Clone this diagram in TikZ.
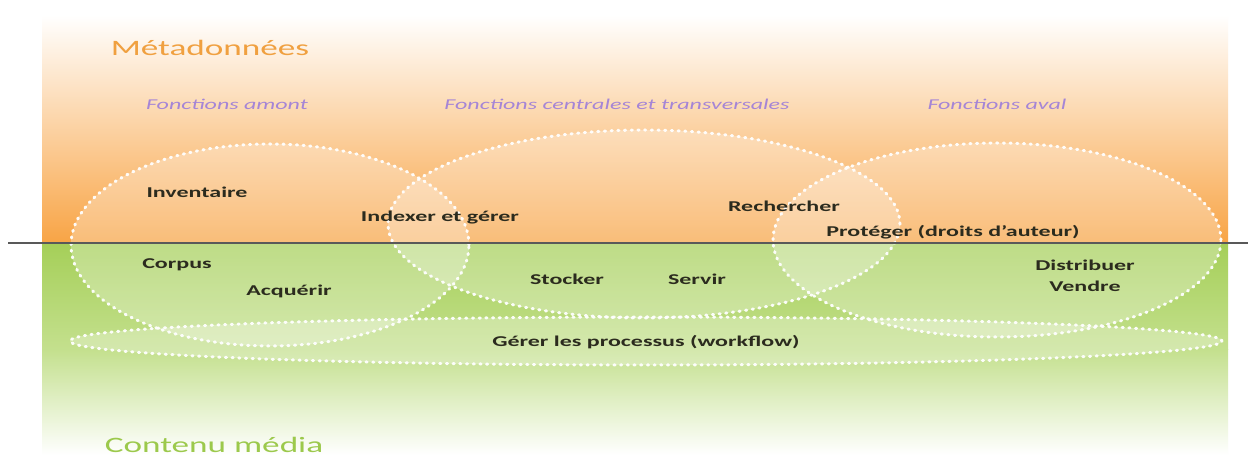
\documentclass[tikz,border=0pt]{standalone}
\usepackage{fontspec}
\setmainfont{Carlito}
\newcommand{\wide}[1]{\scalebox{1.6}[1]{#1}}
\begin{document}
\begin{tikzpicture}[x=1pt,y=-1pt,
  zone/.style={draw=white,line width=3pt,line cap=round,dash pattern=on 1.2pt off 5.5pt,fill=white,fill opacity=0.28,draw opacity=0.95},
  title/.style={font=\fontsize{22}{24}\selectfont,anchor=center},
  fonct/.style={font=\fontsize{15}{17}\selectfont\itshape,text=purpleT},
  lab/.style={font=\fontsize{15}{16}\selectfont\bfseries,text=darkT,align=center}]
\definecolor{orangeB}{HTML}{F8A445}
\definecolor{greenB}{HTML}{A5CF58}
\definecolor{greenM}{HTML}{C4E08E}
\definecolor{purpleT}{HTML}{A585D6}
\definecolor{darkT}{HTML}{2B2B1E}
\definecolor{orangeT}{HTML}{F0A040}
\definecolor{greenT}{HTML}{9CC94C}
\useasboundingbox (0,0) rectangle (1248,462);
\fill[white] (0,0) rectangle (1248,462);
% backgrounds
\shade[top color=white,bottom color=orangeB] (42,15) rectangle (1228,243);
\shade[top color=greenB,bottom color=greenM] (42,243) rectangle (1228,350);
\shade[top color=greenM,bottom color=white] (42,350) rectangle (1228,455);
% ellipses
\draw[zone] (270,245) ellipse [x radius=199pt,y radius=101pt];
\draw[zone] (644,224) ellipse [x radius=256pt,y radius=94pt];
\draw[zone] (997,240) ellipse [x radius=224pt,y radius=97pt];
\draw[zone] (646,341) ellipse [x radius=576pt,y radius=24pt];
% separator
\coordinate (sepL) at (8,243);
\coordinate (sepR) at (1248,243);
\draw[line width=1.2pt,draw=black!65] (sepL) -- (sepR);
% titles
\node[title,text=orangeT] (meta) at (210,48) {\wide{Métadonnées}};
\node[title,text=greenT] (media) at (214,445) {\wide{Contenu média}};
\node[fonct] (amont) at (227,104) {\wide{Fonctions amont}};
\node[fonct] (centr) at (617,104) {\wide{Fonctions centrales et transversales}};
\node[fonct] (aval) at (997,104) {\wide{Fonctions aval}};
% labels
\node[lab] (inv) at (197,192) {\wide{Inventaire}};
\node[lab] (idx) at (440,218) {\wide{Indexer et gérer}};
\node[lab] (rech) at (784,206) {\wide{Rechercher}};
\node[lab] (prot) at (953,232) {\wide{Protéger (droits d’auteur)}};
\node[lab] (corp) at (177,265) {\wide{Corpus}};
\node[lab] (acq) at (289,291) {\wide{Acquérir}};
\node[lab] (stock) at (567,279) {\wide{Stocker}};
\node[lab] (serv) at (697,279) {\wide{Servir}};
\node[lab] (dist) at (1085,265) {\wide{Distribuer}};
\node[lab] (vend) at (1085,286) {\wide{Vendre}};
\node[lab] (wf) at (646,342) {\wide{Gérer les processus (workflow)}};
\end{tikzpicture}
\end{document}
